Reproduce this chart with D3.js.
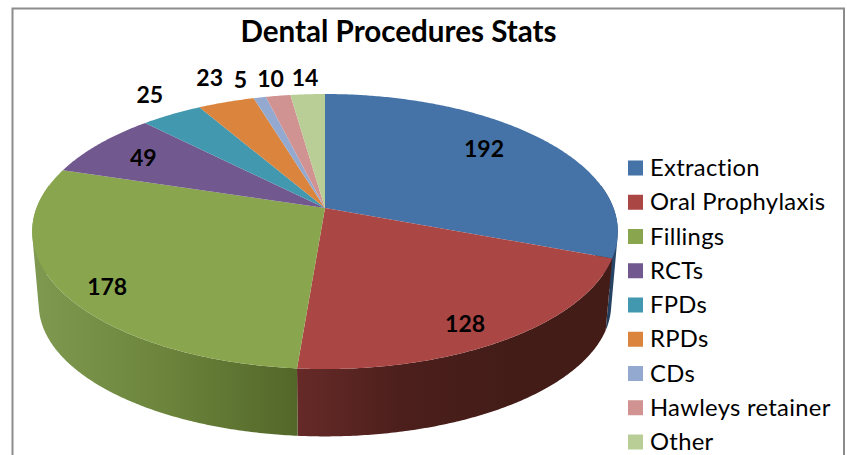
<!DOCTYPE html>
<html>
<head>
  <meta charset="utf-8">
  <title>Dental Procedures Stats</title>
  <style>
    html, body { margin: 0; padding: 0; background: #fff; overflow: hidden; }
    text { font-family: Lato, "Open Sans", sans-serif; fill: #000; }
  </style>
</head>
<body>
  <div id="chart"></div>

  <script src="https://d3js.org/d3.v7.min.js"></script>
  <script>
    const categories = ['Extraction', 'Oral Prophylaxis', 'Fillings', 'RCTs', 'FPDs', 'RPDs', 'CDs', 'Hawleys retainer', 'Other'];
    const values = [192, 128, 178, 49, 25, 23, 5, 10, 14];
    const colors = ['#4573a7', '#aa4644', '#89a54e', '#71588f', '#4198af', '#db843d', '#93a9cf', '#d19392', '#b9cd96'];

    // wall shades from left to right for each slice that shows a wall
    const wallShades = {
      Extraction: ['#1f3550', '#2c4a6e'],
      'Oral Prophylaxis': ['#662a28', '#4c1f1c', '#431c18', '#431c18'],
      Fillings: ['#7f9a50', '#6c843c', '#536729']
    };

    // hand placed data labels: distance from the centre, and degrees off the slice middle
    const labelRadius = [0.772, 0.86, 0.868, 0.79, 1.227, 1.273, 1.21, 1.19, 1.183];
    const labelShift = [-4.7, 2.8, -3.7, 0, 1.8, 1.2, -1.6, 0, 0];

    const width = 847, height = 455;
    const cx = 325;
    const tilt = -0.171; // perspective of the disc

    const svg = d3.select('#chart').append('svg')
      .attr('width', width)
      .attr('height', height);
    const defs = svg.append('defs');

    // frame, open at the bottom
    svg.append('path')
      .attr('d', d3.line()([[12.5, height], [12.5, 8.5], [844, 8.5], [844, height]]))
      .attr('fill', 'none')
      .attr('stroke', '#8c8c8c')
      .attr('stroke-width', 2);

    // unit disc to screen, rim and base share the tilt
    const project = (a, r, disc) => {
      const u = r * Math.sin(a), v = -r * Math.cos(a);
      const d = 1 + tilt * v;
      return [cx + disc.a * u / d, disc.y + disc.b * v / d];
    };
    const rimDisc = { a: 288.5, b: 133.5, y: 208 };
    const baseDisc = { a: 282, b: 128, y: 282 };

    const arcs = d3.pie().sort(null).value((d, i) => values[i])(categories);
    const deg = Math.PI / 180;
    const line = d3.line();

    // walls, one path of thin quads so the edge from rim to base stays straight
    const wallStart = 80 * deg, wallEnd = 280 * deg;
    const walls = svg.append('g');
    arcs.forEach(d => {
      const shades = wallShades[d.data];
      if (!shades) return;
      const from = Math.max(d.startAngle, wallStart);
      const to = Math.min(d.endAngle, wallEnd);
      const angles = d3.range(from, to, 0.5 * deg).concat(to);
      const xs = d3.extent(angles, a => project(a, 1, rimDisc)[0]);

      const grad = defs.append('linearGradient')
        .attr('id', `wall${d.index}`)
        .attr('gradientUnits', 'userSpaceOnUse')
        .attr('x1', xs[0]).attr('x2', xs[1])
        .attr('y1', 0).attr('y2', 0);
      shades.forEach((c, i) => {
        grad.append('stop').attr('offset', i / (shades.length - 1)).attr('stop-color', c);
      });

      const quads = d3.pairs(angles).map(([a0, a1]) => {
        const q = [project(a0, 1, rimDisc), project(a1, 1, rimDisc), project(a1, 1, baseDisc), project(a0, 1, baseDisc)];
        if (d3.polygonArea(q) < 0) q.reverse();
        return line(q) + 'Z';
      });
      walls.append('path')
        .attr('d', quads.join(''))
        .attr('fill', `url(#wall${d.index})`);
    });

    // top of the pie
    svg.append('g')
      .selectAll('path')
      .data(arcs)
      .join('path')
      .attr('fill', d => colors[d.index])
      .attr('d', d => {
        const angles = d3.range(d.startAngle, d.endAngle, 0.5 * deg).concat(d.endAngle);
        return line([[cx, rimDisc.y]].concat(angles.map(a => project(a, 1, rimDisc)))) + 'Z';
      });

    // data labels
    svg.append('g')
      .selectAll('text')
      .data(arcs)
      .join('text')
      .attr('text-anchor', 'middle')
      .attr('dominant-baseline', 'central')
      .attr('font-size', 23)
      .attr('font-weight', 700)
      .attr('transform', d => {
        const mid = (d.startAngle + d.endAngle) / 2 + labelShift[d.index] * deg;
        return `translate(${project(mid, labelRadius[d.index], rimDisc)})`;
      })
      .text(d => values[d.index]);

    svg.append('text')
      .attr('x', 398.5)
      .attr('y', 42)
      .attr('text-anchor', 'middle')
      .attr('font-size', 29.6)
      .attr('font-weight', 700)
      .text('Dental Procedures Stats');

    // legend
    const legendY = d3.scalePoint().domain(categories).range([168, 442]);
    const legend = svg.append('g')
      .selectAll('g')
      .data(categories)
      .join('g')
      .attr('transform', d => `translate(628,${legendY(d)})`);
    legend.append('rect')
      .attr('y', -7.5)
      .attr('width', 15)
      .attr('height', 15)
      .attr('fill', (d, i) => colors[i]);
    legend.append('text')
      .attr('x', 22)
      .attr('y', -1)
      .attr('dominant-baseline', 'central')
      .attr('font-size', 23.8)
      .attr('letter-spacing', 0.3)
      .text(d => d);
  </script>
</body>
</html>
